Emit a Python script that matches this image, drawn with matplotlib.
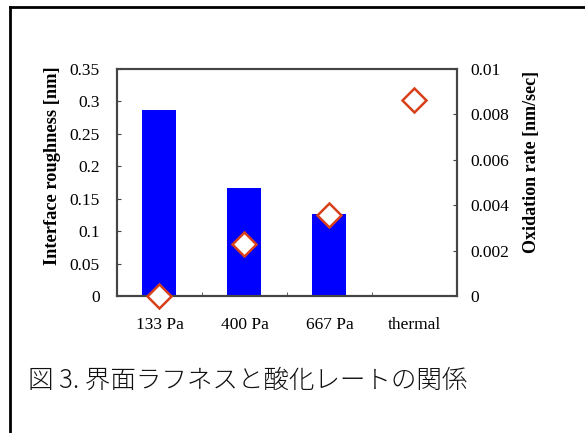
import matplotlib
matplotlib.use('Agg')
import matplotlib.pyplot as plt
from matplotlib.lines import Line2D
import numpy as np

categories = ['133 Pa', '400 Pa', '667 Pa', 'thermal']
roughness = [0.287, 0.166, 0.127, np.nan]
ox_rate = [0.0, 0.00229, 0.00357, 0.00863]
left_ticks = [0, 0.05, 0.1, 0.15, 0.2, 0.25, 0.3, 0.35]
left_labels = ['0', '0.05', '0.1', '0.15', '0.2', '0.25', '0.3', '0.35']
right_ticks = [0, 0.002, 0.004, 0.006, 0.008, 0.01]
right_labels = ['0', '0.002', '0.004', '0.006', '0.008', '0.01']
caption = '図 3. 界面ラフネスと酸化レートの関係'

plt.rcParams['font.family'] = ['Liberation Serif', 'DejaVu Serif']
spine_col = '#454545'

fig = plt.figure(figsize=(5.85, 4.33), dpi=100)
ax1 = fig.add_axes([0.2, 0.316, 0.581, 0.525])
x = np.arange(len(categories))
ax1.bar(x, roughness, width=0.4, color='#0000ff', zorder=2)
ax1.set_xlim(-0.5, len(categories) - 0.5)
ax1.set_ylim(0, 0.35)
ax1.set_yticks(left_ticks)
ax1.set_yticklabels(left_labels)
ax1.set_xticks(x)
ax1.set_xticklabels(categories)
ax1.set_xticks(np.arange(0.5, len(categories) - 0.5, 1), minor=True)
ax1.tick_params(axis='x', which='major', length=0, labelsize=12.5, pad=15)
ax1.tick_params(axis='x', which='minor', direction='in', length=3, color=spine_col)
ax1.tick_params(axis='y', direction='in', length=3, labelsize=12.5, pad=12.5, color=spine_col)
ax1.set_ylabel('Interface roughness [nm]', fontsize=13.2, fontweight='bold')
ax1.yaxis.set_label_coords(-0.165, 0.573)

ax2 = ax1.twinx()
ax2.plot(x, ox_rate, linestyle='none', marker='D', markersize=12,
         markerfacecolor='white', markeredgecolor='#d8401a', markeredgewidth=1.8,
         clip_on=False, zorder=5)
ax2.set_ylim(0, 0.01)
ax2.set_yticks(right_ticks)
ax2.set_yticklabels(right_labels)
ax2.tick_params(axis='y', direction='in', length=3, labelsize=12.5, pad=9.5, color=spine_col)
ax2.set_ylabel('Oxidation rate [nm/sec]', fontsize=13, fontweight='bold')
ax2.yaxis.set_label_coords(1.194, 0.592)

for ax in (ax1, ax2):
    for s in ax.spines.values():
        s.set_color(spine_col)
        s.set_linewidth(1.5)

fig.text(0.048, 0.12, caption, fontsize=18.4, family=['Noto Sans CJK JP', 'DejaVu Sans'],
         fontweight='light', va='center', ha='left', color='#111111')

# outer frame (top and left edges only)
fig.add_artist(Line2D([0.017, 1.0], [0.984, 0.984], color='black', linewidth=2,
                      transform=fig.transFigure))
fig.add_artist(Line2D([0.017, 0.017], [0.0, 0.984], color='black', linewidth=2,
                      transform=fig.transFigure))

fig.savefig('out.png', dpi=100)
